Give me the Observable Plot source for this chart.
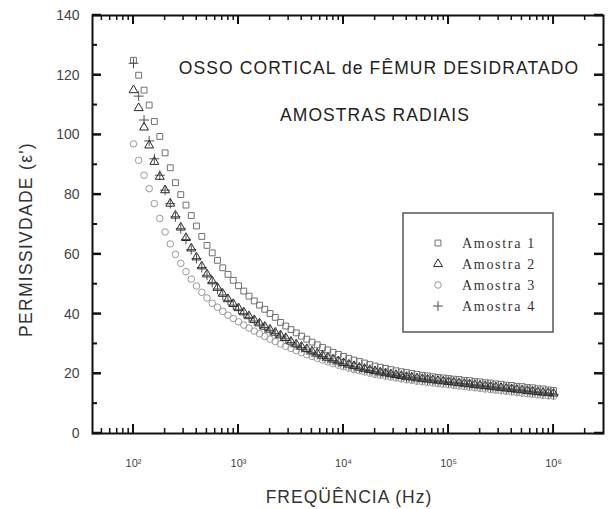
<!DOCTYPE html>
<html>
<head>
<meta charset="utf-8">
<script src="https://cdn.jsdelivr.net/npm/d3@7"></script>
<script src="https://cdn.jsdelivr.net/npm/@observablehq/plot@0.6"></script>
<style>
  html, body { margin: 0; padding: 0; background: #fff; }
  svg { display: block; }
  .t-title1 text { letter-spacing: 1.1px; }
  .t-title2 text { letter-spacing: 1.05px; }
  .t-xlabel text { letter-spacing: 1px; }
  .t-ylabel text { letter-spacing: 1.3px; }
</style>
</head>
<body>
<div id="chart"></div>
<script>
// Frequencies (Hz)
const freq = [100, 112, 126, 141, 158, 178, 200, 224, 251, 282, 316, 355, 398, 447, 501, 562, 631, 708, 794, 891,
  1000, 1122, 1259, 1413, 1585, 1778, 1995, 2239, 2512, 2818, 3162, 3548, 3981, 4467, 5012, 5623, 6310, 7079, 7943, 8913,
  10000, 11220, 12589, 14125, 15849, 17783, 19953, 22387, 25119, 28184, 31623, 35481, 39811, 44668, 50119, 56234, 63096, 70795, 79433, 89125,
  100000, 112202, 125893, 141254, 158489, 177828, 199526, 223872, 251189, 281838, 316228, 354813, 398107, 446684, 501187, 562341, 630957, 707946, 794328, 891251,
  1000000];

const amostra1 = [125, 120, 115, 110, 104.5, 99.5, 94, 89, 84, 80, 76.5, 73, 69.5, 66, 63, 60.5, 58, 55.5, 53.3, 51.3,
  49.5, 47.7, 46, 44.4, 43, 41.6, 40.2, 38.9, 37.2, 36, 34.8, 33.7, 32.6, 31.6, 30.6, 29.7, 28.8, 28, 27.2, 26.5,
  25.8, 25.2, 24.6, 24.1, 23.6, 23.1, 22.6, 22.2, 21.8, 21.4, 21.0, 20.7, 20.4, 20.1, 19.8, 19.5, 19.3, 19.0, 18.8, 18.6,
  18.4, 18.2, 18.1, 17.8, 17.7, 17.4, 17.3, 17.0, 16.9, 16.6, 16.5, 16.2, 16.1, 15.8, 15.7, 15.4, 15.3, 15.0, 14.9, 14.6,
  14.4];

const amostra2 = [115, 109, 102.5, 96.5, 91, 86, 81.5, 77, 73, 69, 65.5, 62, 59, 56, 53.3, 51, 48.8, 46.8, 45, 43.4,
  42, 40.6, 39.3, 38, 36.9, 35.8, 34.8, 33.8, 32.9, 32, 30.8, 29.9, 29.1, 28.3, 27.5, 26.8, 26.1, 25.4, 24.8, 24.2,
  23.6, 23.1, 22.6, 22.1, 21.7, 21.3, 20.9, 20.5, 20.2, 19.9, 19.6, 19.3, 19.0, 18.8, 18.5, 18.3, 18.1, 17.9, 17.7, 17.5,
  17.3, 17.1, 16.9, 16.7, 16.5, 16.3, 16.1, 15.9, 15.7, 15.5, 15.3, 15.1, 14.9, 14.7, 14.5, 14.3, 14.1, 13.9, 13.7, 13.6,
  13.4];

const amostra3 = [97, 91.5, 86.5, 82, 77, 72, 67.5, 63.5, 60, 57, 54.2, 51.7, 49.4, 47.3, 45.4, 43.6, 42.3, 40.9, 39.6, 38.5,
  37.4, 36.3, 35.3, 34.3, 33.4, 32.5, 31.6, 30.8, 30, 29.2, 28.5, 27.8, 27.1, 26.4, 25.8, 25.2, 24.6, 24, 23.4, 22.9,
  22.4, 21.9, 21.4, 21.0, 20.6, 20.2, 19.8, 19.5, 19.2, 18.9, 18.6, 18.3, 18.0, 17.8, 17.5, 17.3, 17.1, 16.9, 16.7, 16.5,
  16.3, 16.1, 15.9, 15.7, 15.5, 15.3, 15.1, 14.9, 14.7, 14.5, 14.3, 14.1, 13.9, 13.7, 13.5, 13.3, 13.1, 12.9, 12.8, 12.6,
  12.5];

const amostra4 = [124, 113, 105, 98, 92, 86.5, 81.5, 77, 72.6, 68.6, 65, 61.6, 58.6, 55.6, 53, 50.6, 48.4, 46.4, 44.6, 43,
  41.6, 40.2, 38.9, 37.7, 36.6, 35.5, 34.5, 33.5, 32.6, 31.7, 30.5, 29.6, 28.8, 28.0, 27.2, 26.5, 25.8, 25.1, 24.5, 23.9,
  23.3, 22.8, 22.3, 21.9, 21.5, 21.1, 20.7, 20.3, 20.0, 19.7, 19.4, 19.1, 18.8, 18.6, 18.3, 18.1, 17.9, 17.7, 17.5, 17.3,
  17.1, 16.9, 16.7, 16.5, 16.3, 16.1, 15.9, 15.7, 15.5, 15.3, 15.1, 14.9, 14.7, 14.5, 14.3, 14.1, 13.9, 13.7, 13.5, 13.3,
  13.1];

const seriesNames = ["Amostra 1", "Amostra 2", "Amostra 3", "Amostra 4"];
const seriesValues = [amostra1, amostra2, amostra3, amostra4];
const seriesSymbols = ["square", "triangle", "circle", "plus"];
const seriesColors = ["#707070", "#2a2a2a", "#9a9a9a", "#505050"];

const xMajorTicks = [100, 1000, 10000, 100000, 1000000];
const xTickLabels = ["10²", "10³", "10⁴", "10⁵", "10⁶"];
const yMajorTicks = [0, 20, 40, 60, 80, 100, 120, 140];
const yMinorTicks = [10, 30, 50, 70, 90, 110, 130];

const title1 = "OSSO CORTICAL de FÊMUR DESIDRATADO";
const title2 = "AMOSTRAS RADIAIS";
const xLabel = "FREQÜÊNCIA (Hz)";
const yLabel = "PERMISSIVDADE (ε')";

(function () {
const xDomain = [40.7, 2.99e6];
const xMinorTicks = [];
for (let e = 1; e <= 6; e++) for (let m = 2; m <= 9; m++) {
  const v = m * Math.pow(10, e);
  if (v > xDomain[0] && v < xDomain[1]) xMinorTicks.push(v);
}

const rows = [];
seriesValues.forEach((vals, s) => vals.forEach((v, i) => rows.push({f: freq[i], v, s: seriesNames[s]})));

const drawOrder = [2, 0, 3, 1];
const font = "'Liberation Sans', Arial, sans-serif";

const plot = Plot.plot({
  width: 611,
  height: 509,
  marginLeft: 92,
  marginRight: 8,
  marginTop: 15,
  marginBottom: 76,
  style: {fontFamily: font, background: "#fff"},
  x: {type: "log", domain: xDomain},
  y: {domain: [0, 140]},
  marks: [
    ...drawOrder.map(s => Plot.dot(rows.filter(d => d.s === seriesNames[s]), {
      x: "f", y: "v", symbol: () => seriesSymbols[s], r: 3.3,
      stroke: seriesColors[s], strokeWidth: 1, fill: "none"
    })),
    Plot.frame({stroke: "#111", strokeWidth: 2}),
    Plot.axisX(xMajorTicks, {anchor: "bottom", tickSize: 0, tickPadding: 26, fontSize: 11, fill: "#444",
      tickFormat: d => xTickLabels[xMajorTicks.indexOf(d)], label: null}),
    Plot.axisY(yMajorTicks, {anchor: "left", tickSize: 0, tickPadding: 13, fontSize: 14, fill: "#444", label: null}),
    Plot.text([xLabel], {frameAnchor: "bottom", dy: 64, dx: 1, fontSize: 17.5, fill: "#333",
      textAnchor: "middle", lineAnchor: "middle", className: "t-xlabel"}),
    Plot.text([yLabel], {frameAnchor: "left", rotate: -90, dx: -66, dy: 15, fontSize: 17.5, fill: "#333",
      textAnchor: "middle", lineAnchor: "middle", className: "t-ylabel"}),
    Plot.text([title1], {frameAnchor: "top", dx: 31, dy: 53, fontSize: 17.5, fill: "#222",
      textAnchor: "middle", lineAnchor: "middle", className: "t-title1"}),
    Plot.text([title2], {frameAnchor: "top", dx: 27, dy: 100, fontSize: 17.5, fill: "#222",
      textAnchor: "middle", lineAnchor: "middle", className: "t-title2"})
  ]
});

document.getElementById("chart").appendChild(plot);

const svg = d3.select(plot);
const sx = plot.scale("x"), sy = plot.scale("y");
const fLeft = sx.apply(xDomain[0]), fRight = sx.apply(xDomain[1]);
const fBottom = sy.apply(0), fTop = sy.apply(140);

// Inward ticks on all four sides
const tk = svg.append("g").attr("stroke", "#111");
function vt(v, len, w) {
  const x = sx.apply(v);
  tk.append("line").attr("x1", x).attr("x2", x).attr("y1", fBottom).attr("y2", fBottom - len).attr("stroke-width", w);
  tk.append("line").attr("x1", x).attr("x2", x).attr("y1", fTop).attr("y2", fTop + len).attr("stroke-width", w);
}
function ht(v, len, w) {
  const y = sy.apply(v);
  tk.append("line").attr("y1", y).attr("y2", y).attr("x1", fLeft).attr("x2", fLeft + len).attr("stroke-width", w);
  tk.append("line").attr("y1", y).attr("y2", y).attr("x1", fRight).attr("x2", fRight - len).attr("stroke-width", w);
}
xMajorTicks.forEach(v => vt(v, 9, 2));
xMinorTicks.forEach(v => vt(v, 5, 1.5));
yMajorTicks.forEach(v => ht(v, 9, 2.5));
yMinorTicks.forEach(v => ht(v, 5, 2));

// Legend box
const legend = {x: 403, y: 213, w: 150, h: 119, symX: 438, textX: 462, row0: 243, rowStep: 21};
const g = svg.append("g");
g.append("rect").attr("x", legend.x).attr("y", legend.y).attr("width", legend.w).attr("height", legend.h)
  .attr("fill", "#fff").attr("stroke", "#555").attr("stroke-width", 1.5);
const symMap = {square: d3.symbolSquare, triangle: d3.symbolTriangle, circle: d3.symbolCircle, plus: d3.symbolPlus};
seriesNames.forEach((name, i) => {
  const yy = legend.row0 + i * legend.rowStep;
  g.append("path")
    .attr("d", d3.symbol(symMap[seriesSymbols[i]], Math.PI * 3.3 * 3.3)())
    .attr("transform", `translate(${legend.symX},${yy})`)
    .attr("fill", "none").attr("stroke", seriesColors[i]).attr("stroke-width", 1);
  g.append("text").attr("x", legend.textX).attr("y", yy).attr("dy", "0.35em")
    .attr("text-anchor", "start")
    .attr("font-family", "'Liberation Serif', 'Times New Roman', serif").attr("font-size", 14)
    .attr("letter-spacing", 1.7)
    .attr("fill", "#333").text(name);
});
})();
</script>
</body>
</html>
